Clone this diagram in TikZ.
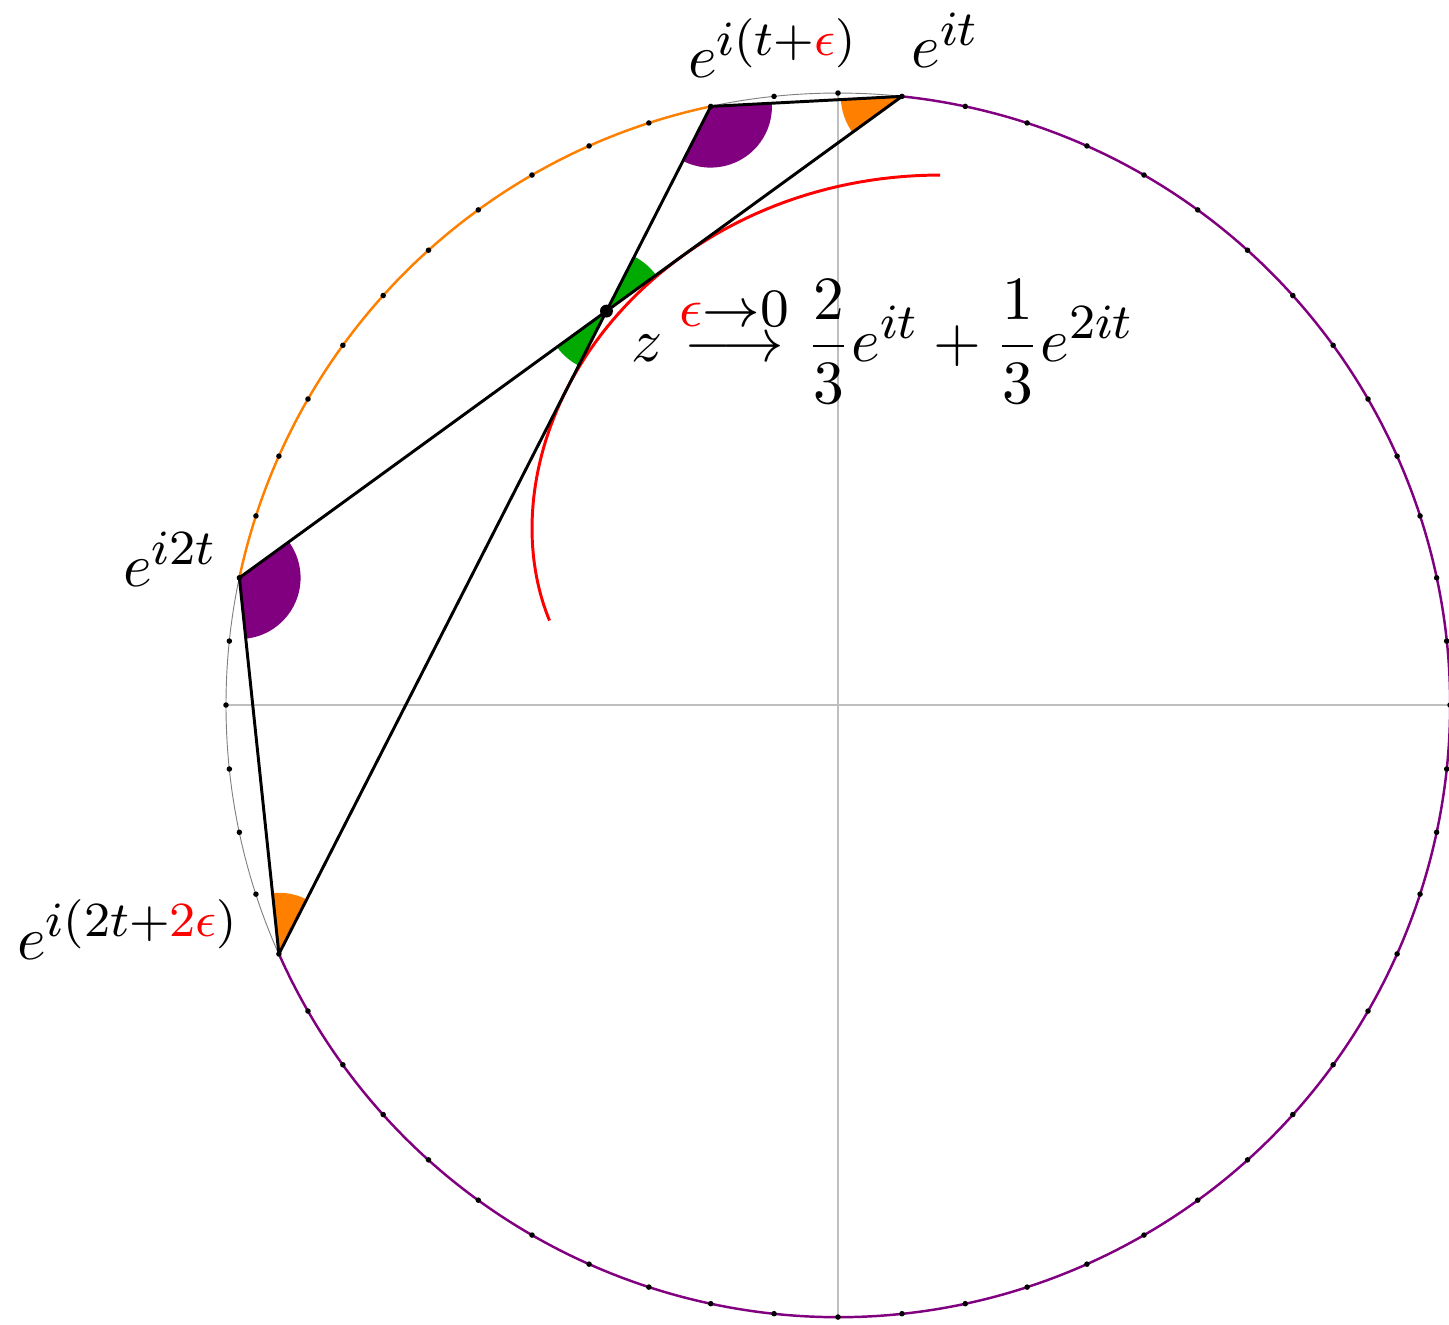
\documentclass[tikz,border=0pt]{standalone}
\usepackage{amsmath}
\DeclareMathSizes{10}{10}{7.7}{5.5}
\definecolor{morange}{RGB}{255,128,0}
\definecolor{mpurple}{RGB}{128,0,128}
\definecolor{mgreen}{RGB}{0,170,0}

\begin{document}
\begin{tikzpicture}[x=3.5cm, y=3.5cm,
	chord/.style={line width=0.48pt, black},
	rim/.style={line width=0.4pt},
	lbl/.style={inner sep=0pt, anchor=base west}]
	\useasboundingbox (-1.3693,-1.0114) rectangle (0.9984,1.1520);
	
	\draw[gray!50, line width=0.25pt] (-1,0) -- (1,0);
	\draw[gray!50, line width=0.25pt] (0,-1) -- (0,1);
	\draw[gray, line width=0.15pt] (0,0) circle (1);
	
	\coordinate (A) at (84:1);
	\coordinate (B) at (102:1);
	\coordinate (C) at (168:1);
	\coordinate (D) at (204:1);
	\coordinate (z) at (intersection of A--C and B--D);
	
	\draw[rim, morange] (B) arc (102:168:1);
	\draw[rim, mpurple] (D) arc (204:444:1);
	
	% angles
	\fill[morange] (A) -- ++(183:.1) arc (183:216:.1) -- cycle;
	\fill[mpurple] (B) -- ++(243:.1) arc (243:363:.1) -- cycle;
	\fill[mpurple] (C) -- ++(-84:.1) arc (-84:36:.1) -- cycle;
	\fill[morange] (D) -- ++(63:.1) arc (63:96:.1) -- cycle;
	\fill[mgreen] (z) -- ++(36:.1) arc (36:63:.1) -- cycle;
	\fill[mgreen] (z) -- ++(216:.1) arc (216:243:.1) -- cycle;
	
	\draw[red, line width=0.48pt, domain=60:135, samples=80, variable=\s]
		plot ({2/3*cos(\s)+1/3*cos(2*\s)}, {2/3*sin(\s)+1/3*sin(2*\s)});
	
	\draw[chord] (A) -- (B);
	\draw[chord] (A) -- (C);
	\draw[chord] (B) -- (D);
	\draw[chord] (C) -- (D);
	
	\foreach \a in {0,6,...,354}
		\fill (\a:1) circle (0.45pt);
	\fill (z) circle (1.05pt);
	
	\node[lbl] (eA) at (0.118,1.042) {$e^{it}$};
	\node[lbl] (eB) at (-0.247,1.025) {$e^{i(t+\textcolor{red}{\epsilon})}$};
	\node[lbl] (eC) at (-1.170,0.193) {$e^{i2t}$};
	\node[lbl] (eD) at (-1.343,-0.415) {$e^{i(2t+\textcolor{red}{2\epsilon})}$};
	\node[lbl] (lim) at (-0.340,0.562) {$z \overset{\scalebox{1.1}{$\scriptstyle\textcolor{red}{\epsilon}\to 0$}}{\longrightarrow} \dfrac{2}{3}e^{it}+\dfrac{1}{3}e^{2it}$};
\end{tikzpicture}
\end{document}
